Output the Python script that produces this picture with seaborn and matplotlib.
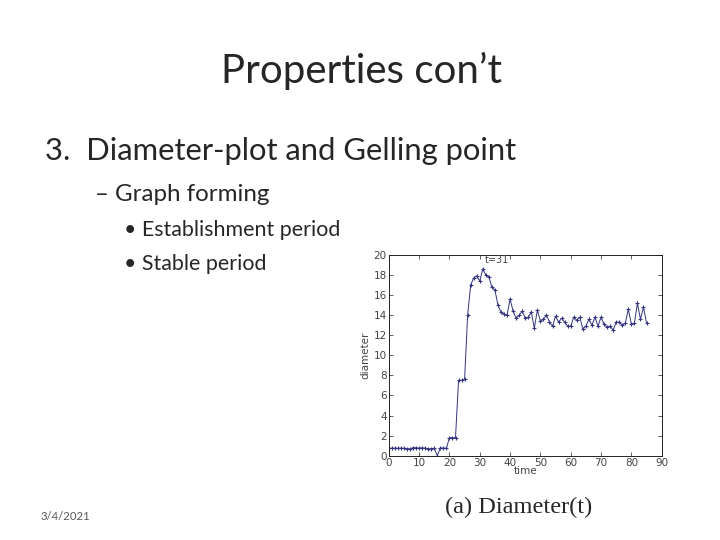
import numpy as np
import pandas as pd
import matplotlib
matplotlib.use('Agg')
import matplotlib.pyplot as plt
import seaborn as sns

# diameter of the graph per time step
time = list(range(0, 86))
diameter = [
    0.75, 0.75, 0.75, 0.75, 0.75, 0.75, 0.7, 0.7, 0.8, 0.8,
    0.75, 0.8, 0.75, 0.7, 0.7, 0.75, 0.0, 0.8, 0.75, 0.75,
    1.8, 1.8, 1.8, 7.5, 7.5, 7.6, 14.0, 17.0, 17.7, 17.9,
    17.4, 18.6, 18.0, 17.8, 16.8, 16.5, 15.0, 14.3, 14.1, 14.0,
    15.6, 14.4, 13.7, 14.0, 14.4, 13.7, 13.8, 14.3, 12.7, 14.5,
    13.4, 13.6, 14.0, 13.3, 12.9, 13.9, 13.3, 13.7, 13.3, 12.9,
    12.9, 13.8, 13.5, 13.8, 12.6, 12.9, 13.6, 13.0, 13.8, 12.9,
    13.8, 13.1, 12.8, 12.9, 12.5, 13.3, 13.3, 13.0, 13.2, 14.6,
    13.1, 13.2, 15.2, 13.6, 14.8, 13.2,
]

title = 'Properties con\u2019t'
item = '3.  Diameter-plot and Gelling point'
sub_item = '\u2013 Graph forming'
bullets = ['\u2022 Establishment period', '\u2022 Stable period']
date_label = '3/4/2021'
caption = '(a) Diameter(t)'

df = pd.DataFrame({'time': time, 'diameter': diameter})

sns.set_style('white')
slide_font = ['Lato', 'DejaVu Sans']

fig = plt.figure(figsize=(7.2, 5.4), dpi=100)
fig.patch.set_facecolor('white')

# slide text
fig.text(0.502, 0.868, title, ha='center', va='center', fontsize=29, family=slide_font)
fig.text(0.062, 0.72, item, ha='left', va='center', fontsize=22.3, family=slide_font)
fig.text(0.132, 0.639, sub_item, ha='left', va='center', fontsize=17.4, family=slide_font)
for i, b in enumerate(bullets):
    fig.text(0.172, 0.574 - i * 0.063, b, ha='left', va='center', fontsize=15.4, family=slide_font)
fig.text(0.056, 0.044, date_label, ha='left', va='center', fontsize=8.2, color='#595959',
         family=slide_font)
fig.text(0.72, 0.061, caption, ha='center', va='center', fontsize=17.6,
         family=['Liberation Serif', 'DejaVu Serif'])

# embedded chart
ax = fig.add_axes([0.540, 0.156, 0.379, 0.372])
sns.lineplot(data=df, x='time', y='diameter', ax=ax, color='#34347f', linewidth=0.7,
             marker='+', markersize=3.5, markeredgewidth=0.8, markeredgecolor='#34347f')
ax.set_xlim(0, 90)
ax.set_ylim(0, 20)
ax.set_xticks(range(0, 91, 10))
ax.set_yticks(range(0, 21, 2))
ax.tick_params(direction='in', length=3, width=0.6, labelsize=7.5, colors='#444444',
               top=True, right=True, bottom=True, left=True, pad=1.5)
for s in ax.spines.values():
    s.set_linewidth(0.7)
    s.set_color('#222222')
ax.set_xlabel('time', fontsize=7.5, labelpad=-1.5, color='#444444')
ax.set_ylabel('diameter', fontsize=7.5, labelpad=2, color='#444444')
ax.annotate('t=31', xy=(31, 18.6), xytext=(31.5, 19.0), fontsize=7, color='#444444',
            ha='left', va='bottom')

fig.savefig('out.png', dpi=100, facecolor='white')
